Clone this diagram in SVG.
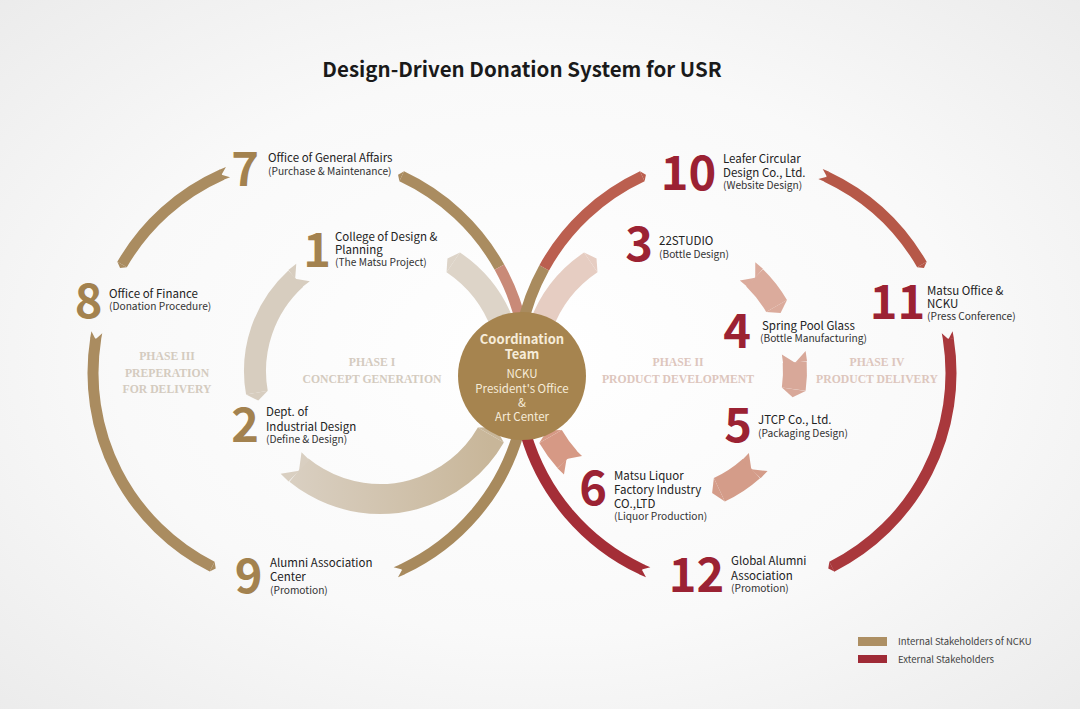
<svg xmlns="http://www.w3.org/2000/svg" width="1080" height="709" viewBox="0 0 1080 709">
<defs>
<radialGradient id="bg" cx="0.5" cy="0.5" r="0.72">
<stop offset="0" stop-color="#ffffff"/>
<stop offset="0.55" stop-color="#f9f9f9"/>
<stop offset="1" stop-color="#ebebeb"/>
</radialGradient>
<linearGradient id="gL2" gradientUnits="userSpaceOnUse" x1="508" y1="371" x2="340" y2="480">
<stop offset="0" stop-color="#c8b699"/>
<stop offset="1" stop-color="#d9cfc1"/>
</linearGradient>
<style>
.arc{fill:none}
.num{font-family:"Noto Sans CJK SC","Noto Sans",sans-serif;font-size:47px;font-weight:700;text-anchor:middle}
.int{fill:#a3824f}
.ext{fill:#9b2233}
.lbl{font-family:"Noto Sans CJK SC","Noto Sans",sans-serif;font-size:11.5px;fill:#222}
.sub{font-size:10.2px;fill:#333}
.ctr{font-family:"Noto Sans CJK SC","Noto Sans",sans-serif;fill:#f6ecd9;text-anchor:middle}
.phase{font-family:"Liberation Serif","Times New Roman",serif;font-size:11.7px;font-weight:bold;text-anchor:middle}
.pl{fill:#d4cbbf}
.pr{fill:#ddc6bd}
.leg{font-family:"Noto Sans CJK SC","Noto Sans",sans-serif;font-size:9.5px;fill:#444}
</style>
</defs>
<rect x="0" y="0" width="1080" height="709" fill="url(#bg)"/>
<text x="522" y="77" font-family="'Noto Sans CJK SC','Noto Sans',sans-serif" font-size="20.5" font-weight="700" fill="#1a1a1a" text-anchor="middle">Design-Driven Donation System for USR</text>

<g id="connectors">
  <!-- Left inner loop (Phase I) -->
  <g id="L1" fill="#d7cdbf">
    <circle class="arc" cx="380" cy="371" r="125" pathLength="360" stroke="#d7cdbf" stroke-width="22" stroke-dasharray="57.65 360" transform="rotate(170 380 371)"/>
    <path d="M516,371 L516,361 L505,361 Z M505,361 L494,361 L494,371 Z" transform="rotate(232 380 371)"/>
    <polygon points="516,371 505,363 494,371" transform="rotate(170 380 371)"/>
  </g>
  <g id="L2">
    <circle class="arc" cx="380" cy="371" r="128" pathLength="360" stroke="url(#gL2)" stroke-width="30" stroke-dasharray="99.3 360" transform="rotate(30 380 371)"/>
    <path fill="#d9cfc1" d="M523,371 L523,360 L508,360 Z M508,360 L493,360 L493,371 Z" transform="rotate(134 380 371)"/>
    <polygon fill="#c8b699" points="523,371 508,362 493,371" transform="rotate(30 380 371)"/>
  </g>
  <g id="L3" fill="#ddd4c8">
    <circle class="arc" cx="380" cy="371" r="131" pathLength="360" stroke="#ddd4c8" stroke-width="24" stroke-dasharray="36 360" transform="rotate(-56 380 371)"/>
    <polygon points="523,371 511,364 499,371" transform="rotate(-56 380 371)"/>
  </g>
  <!-- Right inner loop (Phase II) -->
  <g id="R1" fill="#e6cdc2">
    <circle class="arc" cx="664" cy="371" r="131" pathLength="360" stroke="#e6cdc2" stroke-width="24" stroke-dasharray="36 360" transform="rotate(200 664 371)"/>
    <polygon points="807,371 795,378 783,371" transform="rotate(236 664 371)"/>
  </g>
  <g id="R2" fill="#dbab9c">
    <circle class="arc" cx="664" cy="371" r="130" pathLength="360" stroke="#dbab9c" stroke-width="24" stroke-dasharray="15.81 360" transform="rotate(-45.81 664 371)"/>
    <path d="M806,371 L806,381 L794,381 Z M794,381 L782,381 L782,371 Z" transform="rotate(-50 664 371)"/>
    <polygon points="806,371 794,379 782,371" transform="rotate(-30 664 371)"/>
  </g>
  <g id="R3" fill="#d8a899">
    <circle class="arc" cx="664" cy="371" r="131" pathLength="360" stroke="#d8a899" stroke-width="24" stroke-dasharray="11.84 360" transform="rotate(-3.84 664 371)"/>
    <path d="M807,371 L807,381 L795,381 Z M795,381 L783,381 L783,371 Z" transform="rotate(-8 664 371)"/>
    <polygon points="807,371 795,379 783,371" transform="rotate(8 664 371)"/>
  </g>
  <g id="R4" fill="#d49c89">
    <circle class="arc" cx="664" cy="371" r="131" pathLength="360" stroke="#d49c89" stroke-width="26" stroke-dasharray="16.84 360" transform="rotate(48.16 664 371)"/>
    <path d="M808,371 L808,381 L795,381 Z M795,381 L782,381 L782,371 Z" transform="rotate(44 664 371)"/>
    <polygon points="808,371 795,379 782,371" transform="rotate(65 664 371)"/>
  </g>
  <g id="R5" fill="#d69985">
    <circle class="arc" cx="664" cy="371" r="131" pathLength="360" stroke="#d69985" stroke-width="26" stroke-dasharray="12.28 360" transform="rotate(137.72 664 371)"/>
    <path d="M808,371 L808,380 L795,380 Z M795,380 L782,380 L782,371 Z" transform="rotate(134 664 371)"/>
    <polygon points="808,371 795,378 782,371" transform="rotate(150 664 371)"/>
  </g>

  <!-- Left outer loop (Phase III) -->
  <g id="A" fill="#aa8c60">
    <circle class="arc" cx="310" cy="373" r="217" pathLength="360" stroke="#aa8c60" stroke-width="11" stroke-dasharray="35.8 360" transform="rotate(-65 310 373)"/>
    <circle class="arc" cx="310" cy="373" r="217" pathLength="360" stroke="#c98a78" stroke-width="11" stroke-dasharray="17.2 360" transform="rotate(-29.2 310 373)"/>
    <polygon points="532.5,373 527,369 521.5,373" transform="rotate(-65 310 373)"/>
  </g>
  <g id="B" fill="#aa8c60">
    <circle class="arc" cx="310" cy="373" r="217" pathLength="360" stroke="#aa8c60" stroke-width="11" stroke-dasharray="36.08 360" transform="rotate(-150 310 373)"/>
    <path d="M532.5,373 L532.5,366 L527,366 Z M527,366 L521.5,366 L521.5,373 Z" transform="rotate(-112.2 310 373)"/>
    <polygon points="532.5,373 527,369 521.5,373" transform="rotate(-150 310 373)"/>
  </g>
  <g id="C" fill="#aa8c60">
    <circle class="arc" cx="310" cy="373" r="217" pathLength="360" stroke="#aa8c60" stroke-width="11" stroke-dasharray="72.28 360" transform="rotate(116.8 310 373)"/>
    <path d="M532.5,373 L532.5,366 L527,366 Z M527,366 L521.5,366 L521.5,373 Z" transform="rotate(190.8 310 373)"/>
    <polygon points="532.5,373 527,369 521.5,373" transform="rotate(116.8 310 373)"/>
  </g>
  <g id="D" fill="#a88a5d">
    <circle class="arc" cx="310" cy="373" r="217" pathLength="360" stroke="#a88a5d" stroke-width="11" stroke-dasharray="48.98 360" transform="rotate(16 310 373)"/>
    <path d="M532.5,373 L532.5,366 L527,366 Z M527,366 L521.5,366 L521.5,373 Z" transform="rotate(66.7 310 373)"/>
  </g>

  <!-- Right outer loop (Phase IV) -->
  <g id="E" fill="#bb5f4f">
    <circle class="arc" cx="734" cy="373" r="217" pathLength="360" stroke="#a98b5e" stroke-width="11" stroke-dasharray="17 360" transform="rotate(192 734 373)"/>
    <circle class="arc" cx="734" cy="373" r="217" pathLength="360" stroke="#bb5f4f" stroke-width="11" stroke-dasharray="36 360" transform="rotate(209 734 373)"/>
    <polygon points="956.5,373 951,377 945.5,373" transform="rotate(245 734 373)"/>
  </g>
  <g id="F" fill="#b65848">
    <circle class="arc" cx="734" cy="373" r="217" pathLength="360" stroke="#b65848" stroke-width="11" stroke-dasharray="34.78 360" transform="rotate(-64.78 734 373)"/>
    <path d="M956.5,373 L956.5,380 L951,380 Z M951,380 L945.5,380 L945.5,373 Z" transform="rotate(-66.5 734 373)"/>
    <polygon points="956.5,373 951,377 945.5,373" transform="rotate(-30 734 373)"/>
  </g>
  <g id="G" fill="#a9383c">
    <circle class="arc" cx="734" cy="373" r="217" pathLength="360" stroke="#a9383c" stroke-width="11" stroke-dasharray="72.28 360" transform="rotate(-9.08 734 373)"/>
    <path d="M956.5,373 L956.5,380 L951,380 Z M951,380 L945.5,380 L945.5,373 Z" transform="rotate(-10.8 734 373)"/>
    <polygon points="956.5,373 951,377 945.5,373" transform="rotate(63.2 734 373)"/>
  </g>
  <g id="H" fill="#a42e37">
    <circle class="arc" cx="734" cy="373" r="217" pathLength="360" stroke="#a42e37" stroke-width="11" stroke-dasharray="48.98 360" transform="rotate(115.02 734 373)"/>
    <path d="M956.5,373 L956.5,380 L951,380 Z M951,380 L945.5,380 L945.5,373 Z" transform="rotate(113.3 734 373)"/>
  </g>
</g>

<g id="node-center">
  <circle cx="522" cy="376" r="64" fill="#a6844f"/>
  <text class="ctr" x="522" y="344" font-size="13" font-weight="700">Coordination</text>
  <text class="ctr" x="522" y="359" font-size="13" font-weight="700">Team</text>
  <text class="ctr" x="522" y="378" font-size="11.5">NCKU</text>
  <text class="ctr" x="522" y="393" font-size="11.5">President's Office</text>
  <text class="ctr" x="522" y="407" font-size="11.5">&amp;</text>
  <text class="ctr" x="522" y="421" font-size="11.5">Art Center</text>
</g>

<g id="node-7">
  <text class="num int" x="245" y="186">7</text>
  <text class="lbl" x="268" y="162">Office of General Affairs</text>
  <text class="lbl sub" x="268" y="175">(Purchase &amp; Maintenance)</text>
</g>
<g id="node-1">
  <text class="num int" x="317" y="267">1</text>
  <text class="lbl" x="335" y="241">College of Design &amp;</text>
  <text class="lbl" x="335" y="254">Planning</text>
  <text class="lbl sub" x="335" y="266">(The Matsu Project)</text>
</g>
<g id="node-8">
  <text class="num int" x="88.5" y="318">8</text>
  <text class="lbl" x="109" y="298">Office of Finance</text>
  <text class="lbl sub" x="109" y="310">(Donation Procedure)</text>
</g>
<g id="node-2">
  <text class="num int" x="245" y="442">2</text>
  <text class="lbl" x="266" y="416">Dept. of</text>
  <text class="lbl" x="266" y="431">Industrial Design</text>
  <text class="lbl sub" x="266" y="443">(Define &amp; Design)</text>
</g>
<g id="node-9">
  <text class="num int" x="248.5" y="593">9</text>
  <text class="lbl" x="270" y="567">Alumni Association</text>
  <text class="lbl" x="270" y="581">Center</text>
  <text class="lbl sub" x="270" y="594">(Promotion)</text>
</g>
<g id="node-10">
  <text class="num ext" x="688.5" y="190">10</text>
  <text class="lbl" x="723" y="163">Leafer Circular</text>
  <text class="lbl" x="723" y="177">Design Co., Ltd.</text>
  <text class="lbl sub" x="723" y="189">(Website Design)</text>
</g>
<g id="node-3">
  <text class="num ext" x="639" y="261">3</text>
  <text class="lbl" x="659" y="245">22STUDIO</text>
  <text class="lbl sub" x="659" y="258">(Bottle Design)</text>
</g>
<g id="node-11">
  <text class="num ext" x="897.5" y="319">11</text>
  <text class="lbl" x="927" y="295">Matsu Office &amp;</text>
  <text class="lbl" x="927" y="308">NCKU</text>
  <text class="lbl sub" x="927" y="320">(Press Conference)</text>
</g>
<g id="node-4">
  <text class="num ext" x="737" y="348">4</text>
  <text class="lbl" x="762" y="330">Spring Pool Glass</text>
  <text class="lbl sub" x="760" y="342">(Bottle Manufacturing)</text>
</g>
<g id="node-5">
  <text class="num ext" x="738" y="442">5</text>
  <text class="lbl" x="758" y="424">JTCP Co., Ltd.</text>
  <text class="lbl sub" x="758" y="437">(Packaging Design)</text>
</g>
<g id="node-6">
  <text class="num ext" x="593" y="505">6</text>
  <text class="lbl" x="614" y="480">Matsu Liquor</text>
  <text class="lbl" x="614" y="494">Factory Industry</text>
  <text class="lbl" x="614" y="508">CO.,LTD</text>
  <text class="lbl sub" x="614" y="520">(Liquor Production)</text>
</g>
<g id="node-12">
  <text class="num ext" x="696.5" y="592">12</text>
  <text class="lbl" x="731" y="565">Global Alumni</text>
  <text class="lbl" x="731" y="580">Association</text>
  <text class="lbl sub" x="731" y="592">(Promotion)</text>
</g>

<g id="phases">
  <text class="phase pl" x="167" y="360">PHASE III</text>
  <text class="phase pl" x="167" y="377">PREPERATION</text>
  <text class="phase pl" x="167" y="393">FOR DELIVERY</text>
  <text class="phase pl" x="372" y="366">PHASE I</text>
  <text class="phase pl" x="372" y="383">CONCEPT GENERATION</text>
  <text class="phase pr" x="678" y="366">PHASE II</text>
  <text class="phase pr" x="678" y="383">PRODUCT DEVELOPMENT</text>
  <text class="phase pr" x="877" y="366">PHASE IV</text>
  <text class="phase pr" x="877" y="383">PRODUCT DELIVERY</text>
</g>

<g id="legend">
  <rect x="858" y="637" width="29" height="9" fill="#ad8f63"/>
  <rect x="858" y="655" width="29" height="8" fill="#9f2a36"/>
  <text class="leg" x="898" y="645">Internal Stakeholders of NCKU</text>
  <text class="leg" x="898" y="663">External Stakeholders</text>
</g>
</svg>
